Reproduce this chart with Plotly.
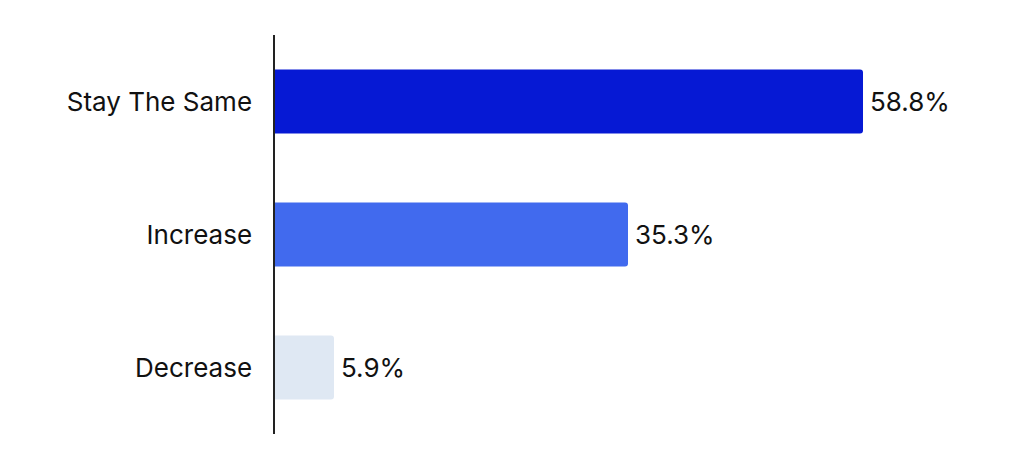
import plotly.graph_objects as go

categories = ["Stay The Same", "Increase", "Decrease"]
values = [58.8, 35.3, 5.9]
labels = ["58.8%", "35.3%", "5.9%"]
colors = ["#0619D4", "#416AEE", "#DFE8F3"]

fig = go.Figure(go.Bar(
    y=categories,
    x=values,
    orientation="h",
    marker=dict(color=colors, line=dict(width=0), cornerradius=3),
    width=0.48,
    hoverinfo="skip",
))

for c, v, t in zip(categories, values, labels):
    fig.add_annotation(x=v, y=c, text=t, showarrow=False, xanchor="left",
                       yanchor="middle", xshift=5,
                       font=dict(family="Inter", size=26, color="#111111"))

fig.update_layout(
    width=1024, height=472,
    margin=dict(l=267, r=57, t=27, b=46),
    paper_bgcolor="white", plot_bgcolor="white",
    font=dict(family="Inter", size=26, color="#111111"),
    showlegend=False,
    xaxis=dict(range=[0, 70], showgrid=False, zeroline=False, showticklabels=False,
               showline=False, fixedrange=True),
    yaxis=dict(autorange=False, range=[2.5, -0.5], categoryorder="array",
               categoryarray=categories, showgrid=False, zeroline=False,
               showline=True, linecolor="#222222", linewidth=1.5,
               ticks="", ticklabelstandoff=16,
               tickfont=dict(family="Inter", size=26, color="#111111")),
)

fig.write_html("out.html")
